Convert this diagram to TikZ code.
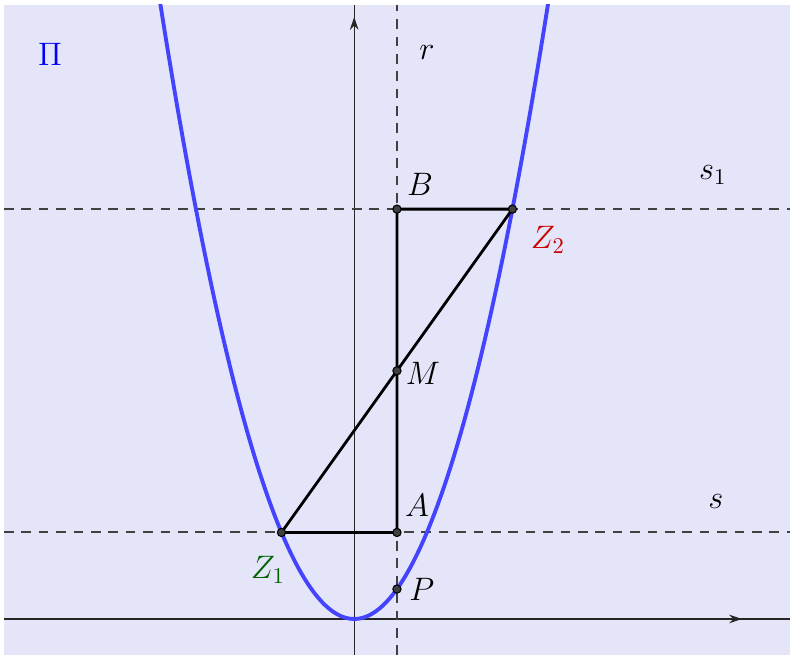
\documentclass[tikz,border=0pt]{standalone}
\usetikzlibrary{arrows.meta}

\definecolor{bgLav}{RGB}{229,229,250}
\definecolor{parabBlue}{RGB}{68,68,255}
\definecolor{piBlue}{RGB}{0,0,255}
\definecolor{zRed}{RGB}{204,0,0}
\definecolor{zGreen}{RGB}{0,100,0}
\definecolor{guideGray}{RGB}{64,64,64}

\begin{document}
\begin{tikzpicture}[thick, >={Stealth[length=6pt,width=4pt]},
  pt/.style={circle, draw=black, fill=guideGray, line width=0.5pt, inner sep=0pt, minimum size=0.135cm},
  lbl/.style={font=\Large, scale=1.05},
  guide/.style={draw=guideGray, line width=0.9pt, dash pattern=on 4.5pt off 3.6pt},
  axis/.style={draw=black!85, line width=0.5pt},
  seg/.style={line width=1.3pt, line join=round}]

  % 0. Frame and background (1 unit = 1 cm)
  \useasboundingbox (-5.797,-0.589) rectangle (7.133,10.131);
  \coordinate (SW) at (-5.732,-0.589);
  \coordinate (NE) at (7.133,10.049);
  \fill[bgLav] (SW) rectangle (NE);
  \clip (SW) rectangle (NE);

  % 1. Points of the construction, x = 0.7 for r
  \coordinate (O)  at (0,0);
  \coordinate (Z1) at (-1.19,1.4161);
  \coordinate (Z2) at (2.59,6.7081);
  \coordinate (A)  at (0.7,1.4161);
  \coordinate (B)  at (0.7,6.7081);
  \coordinate (M)  at (0.7,4.0621);
  \coordinate (P)  at (0.7,0.49);

  % 2. Axes, arrow tips a little before the edge
  \coordinate (xtip) at (6.347,0);
  \coordinate (ytip) at (0,9.853);
  \draw[axis] (SW |- O) -- (NE |- O);
  \draw[axis] (O |- SW) -- (O |- NE);
  \draw[axis, ->] (O) -- (xtip);
  \draw[axis, ->] (O) -- (ytip);

  % 3. Dashed lines r, s and s_1
  \draw[guide] (P |- SW) -- (P |- NE);
  \draw[guide] (A -| SW) -- (A -| NE);
  \draw[guide] (B -| SW) -- (B -| NE);

  % 4. The parabola y = x^2
  \draw[parabBlue, line width=1.8pt] plot[domain=-3.3:3.3, samples=120] (\x,{\x*\x});

  % 5. Segments
  \draw[seg] (Z1) -- (A) -- (B) -- (Z2) -- cycle;

  % 6. Dots on top
  \foreach \p in {Z1,Z2,A,B,M,P} {
    \node[pt] (dot\p) at (\p) {};
  }

  % 7. Labels
  \node[lbl, text=piBlue] (labPi) at (-4.979,9.247) {$\Pi$};
  \node[lbl] (labr)  at (1.191,9.264) {$r$};
  \node[lbl] (labs1) at (5.871,7.267) {$s_1$};
  \node[lbl] (labs)  at (5.920,1.915) {$s$};
  \node[lbl] (labB)  at ([shift={(0.377,0.398)}]B) {$B$};
  \node[lbl] (labA)  at ([shift={(0.328,0.445)}]A) {$A$};
  \node[lbl] (labM)  at ([shift={(0.426,-0.036)}]M) {$M$};
  \node[lbl] (labP)  at ([shift={(0.409,0.0)}]P) {$P$};
  \node[lbl, text=zRed]   (labZ2) at ([shift={(0.583,-0.505)}]Z2) {$Z_2$};
  \node[lbl, text=zGreen] (labZ1) at ([shift={(-0.221,-0.614)}]Z1) {$Z_1$};

\end{tikzpicture}
\end{document}
